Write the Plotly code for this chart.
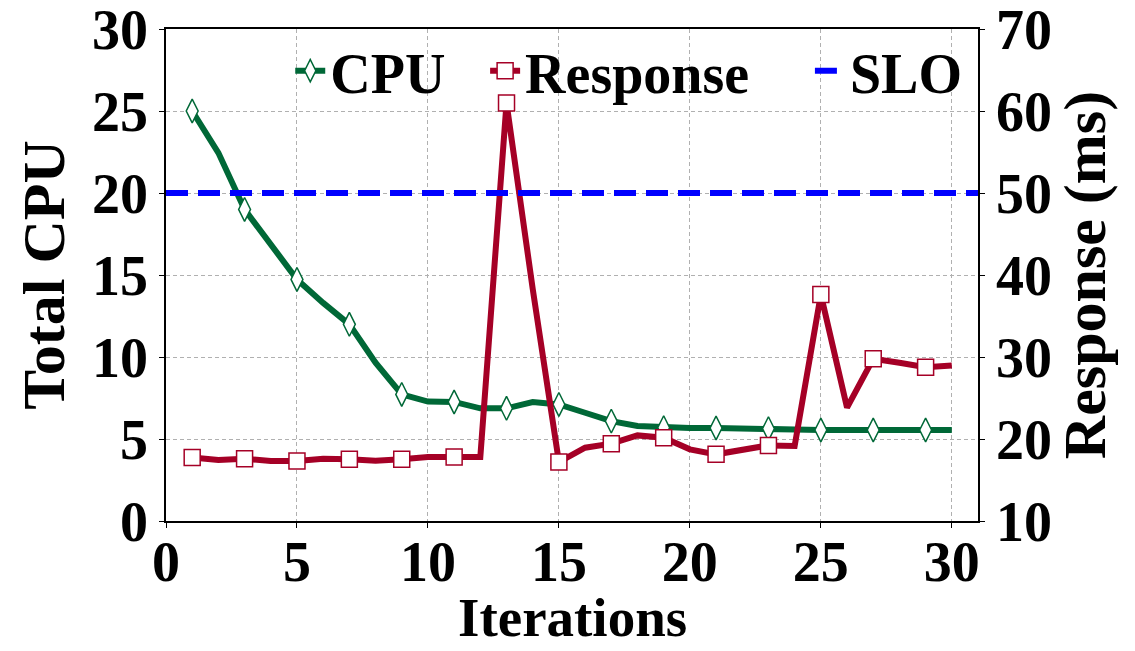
import plotly.graph_objects as go

iterations = list(range(1, 31))
cpu = [25.0, 22.45, 19.0, 16.8, 14.73, 13.3, 11.99, 9.65, 7.72, 7.28,
       7.26, 6.87, 6.87, 7.25, 7.11, 6.6, 6.09, 5.79, 5.69, 5.67,
       5.67, 5.67, 5.63, 5.58, 5.55, 5.55, 5.55, 5.55, 5.55, 5.55]
response = [17.73, 17.43, 17.6, 17.31, 17.31, 17.6, 17.52, 17.36, 17.52, 17.8,
            17.8, 17.8, 60.98, 38.3, 17.19, 18.94, 19.43, 20.44, 20.16, 18.74,
            18.13, 18.65, 19.22, 19.14, 37.62, 23.82, 29.79, 29.3, 28.76, 28.97]
slo_ms = 50
x_range = [0, 31]
x_ticks = [0, 5, 10, 15, 20, 25, 30]
cpu_ticks = [0, 5, 10, 15, 20, 25, 30]
resp_ticks = [10, 20, 30, 40, 50, 60, 70]

GREEN = "#006837"
RED = "#a50026"
BLUE = "#0000ff"
FONT = "Liberation Serif"

show = [i % 2 == 1 for i in iterations]
cpu_fill = ["white" if s else "rgba(0,0,0,0)" for s in show]
cpu_edge = [GREEN if s else "rgba(0,0,0,0)" for s in show]
resp_fill = ["white" if s else "rgba(0,0,0,0)" for s in show]
resp_edge = [RED if s else "rgba(0,0,0,0)" for s in show]

fig = go.Figure()
fig.add_trace(go.Scatter(
    x=iterations, y=cpu, name="CPU", mode="lines+markers", yaxis="y",
    line=dict(color=GREEN, width=6),
    marker=dict(symbol="diamond-tall", size=17, color=cpu_fill,
                line=dict(color=cpu_edge, width=1.5)),
    legend="legend", showlegend=True))
fig.add_trace(go.Scatter(
    x=iterations, y=response, name="Response", mode="lines+markers", yaxis="y2",
    line=dict(color=RED, width=6),
    marker=dict(symbol="square", size=16, color=resp_fill,
                line=dict(color=resp_edge, width=1.5)),
    legend="legend2", showlegend=True))
fig.add_trace(go.Scatter(
    x=x_range, y=[slo_ms, slo_ms], name="SLO", mode="lines", yaxis="y2",
    line=dict(color=BLUE, width=6, dash="22px,10px"),
    legend="legend3", showlegend=True))

tickfont = dict(family=FONT, size=56, color="black", weight="bold")
titlefont = dict(family=FONT, size=60, color="black", weight="bold")
xtitlefont = dict(family=FONT, size=55, color="black", weight="bold")
legfont = dict(family=FONT, size=56, color="black", weight="bold")

fig.update_layout(
    width=1135, height=651,
    margin=dict(l=166, r=157, t=29, b=130),
    paper_bgcolor="white", plot_bgcolor="white",
    font=dict(family=FONT),
    showlegend=True,
    xaxis=dict(range=x_range, tickvals=x_ticks, showgrid=True, automargin=False,
               gridcolor="#b0b0b0", gridwidth=1, griddash="4px,3px",
               showline=True, linecolor="black", linewidth=1.5, mirror=True,
               ticks="outside", ticklen=5, tickcolor="black",
               tickfont=tickfont, zeroline=False, ticklabeloverflow="allow",
               ticklabelstandoff=-14),
    yaxis=dict(range=[0, 30], tickvals=cpu_ticks, showgrid=True, automargin=False,
               gridcolor="#b0b0b0", gridwidth=1, griddash="4px,3px",
               showline=True, linecolor="black", linewidth=1.5,
               ticks="outside", ticklen=5, tickcolor="black",
               tickfont=tickfont, zeroline=False, ticklabeloverflow="allow",
               title=dict(text="Total CPU", font=titlefont, standoff=8)),
    yaxis2=dict(range=[10, 70], tickvals=resp_ticks, overlaying="y", side="right",
                showgrid=False, showline=True, linecolor="black", linewidth=1.5,
                automargin=False,
                ticks="outside", ticklen=5, tickcolor="black",
                tickfont=tickfont, zeroline=False, ticklabeloverflow="allow",
                title=dict(text="Response (ms)", font=titlefont, standoff=0)),
    legend=dict(x=0.153, y=0.915, xanchor="left", yanchor="middle",
                orientation="h", font=legfont, bgcolor="rgba(0,0,0,0)"),
    legend2=dict(x=0.393, y=0.915, xanchor="left", yanchor="middle",
                 orientation="h", font=legfont, bgcolor="rgba(0,0,0,0)"),
    legend3=dict(x=0.793, y=0.915, xanchor="left", yanchor="middle",
                 orientation="h", font=legfont, bgcolor="rgba(0,0,0,0)"),
    annotations=[dict(text="Iterations", xref="paper", yref="paper",
                      x=0.5, y=-0.2605, xanchor="center", yanchor="bottom",
                      showarrow=False, font=xtitlefont, borderpad=0)],
)

fig.write_html("out.html")
